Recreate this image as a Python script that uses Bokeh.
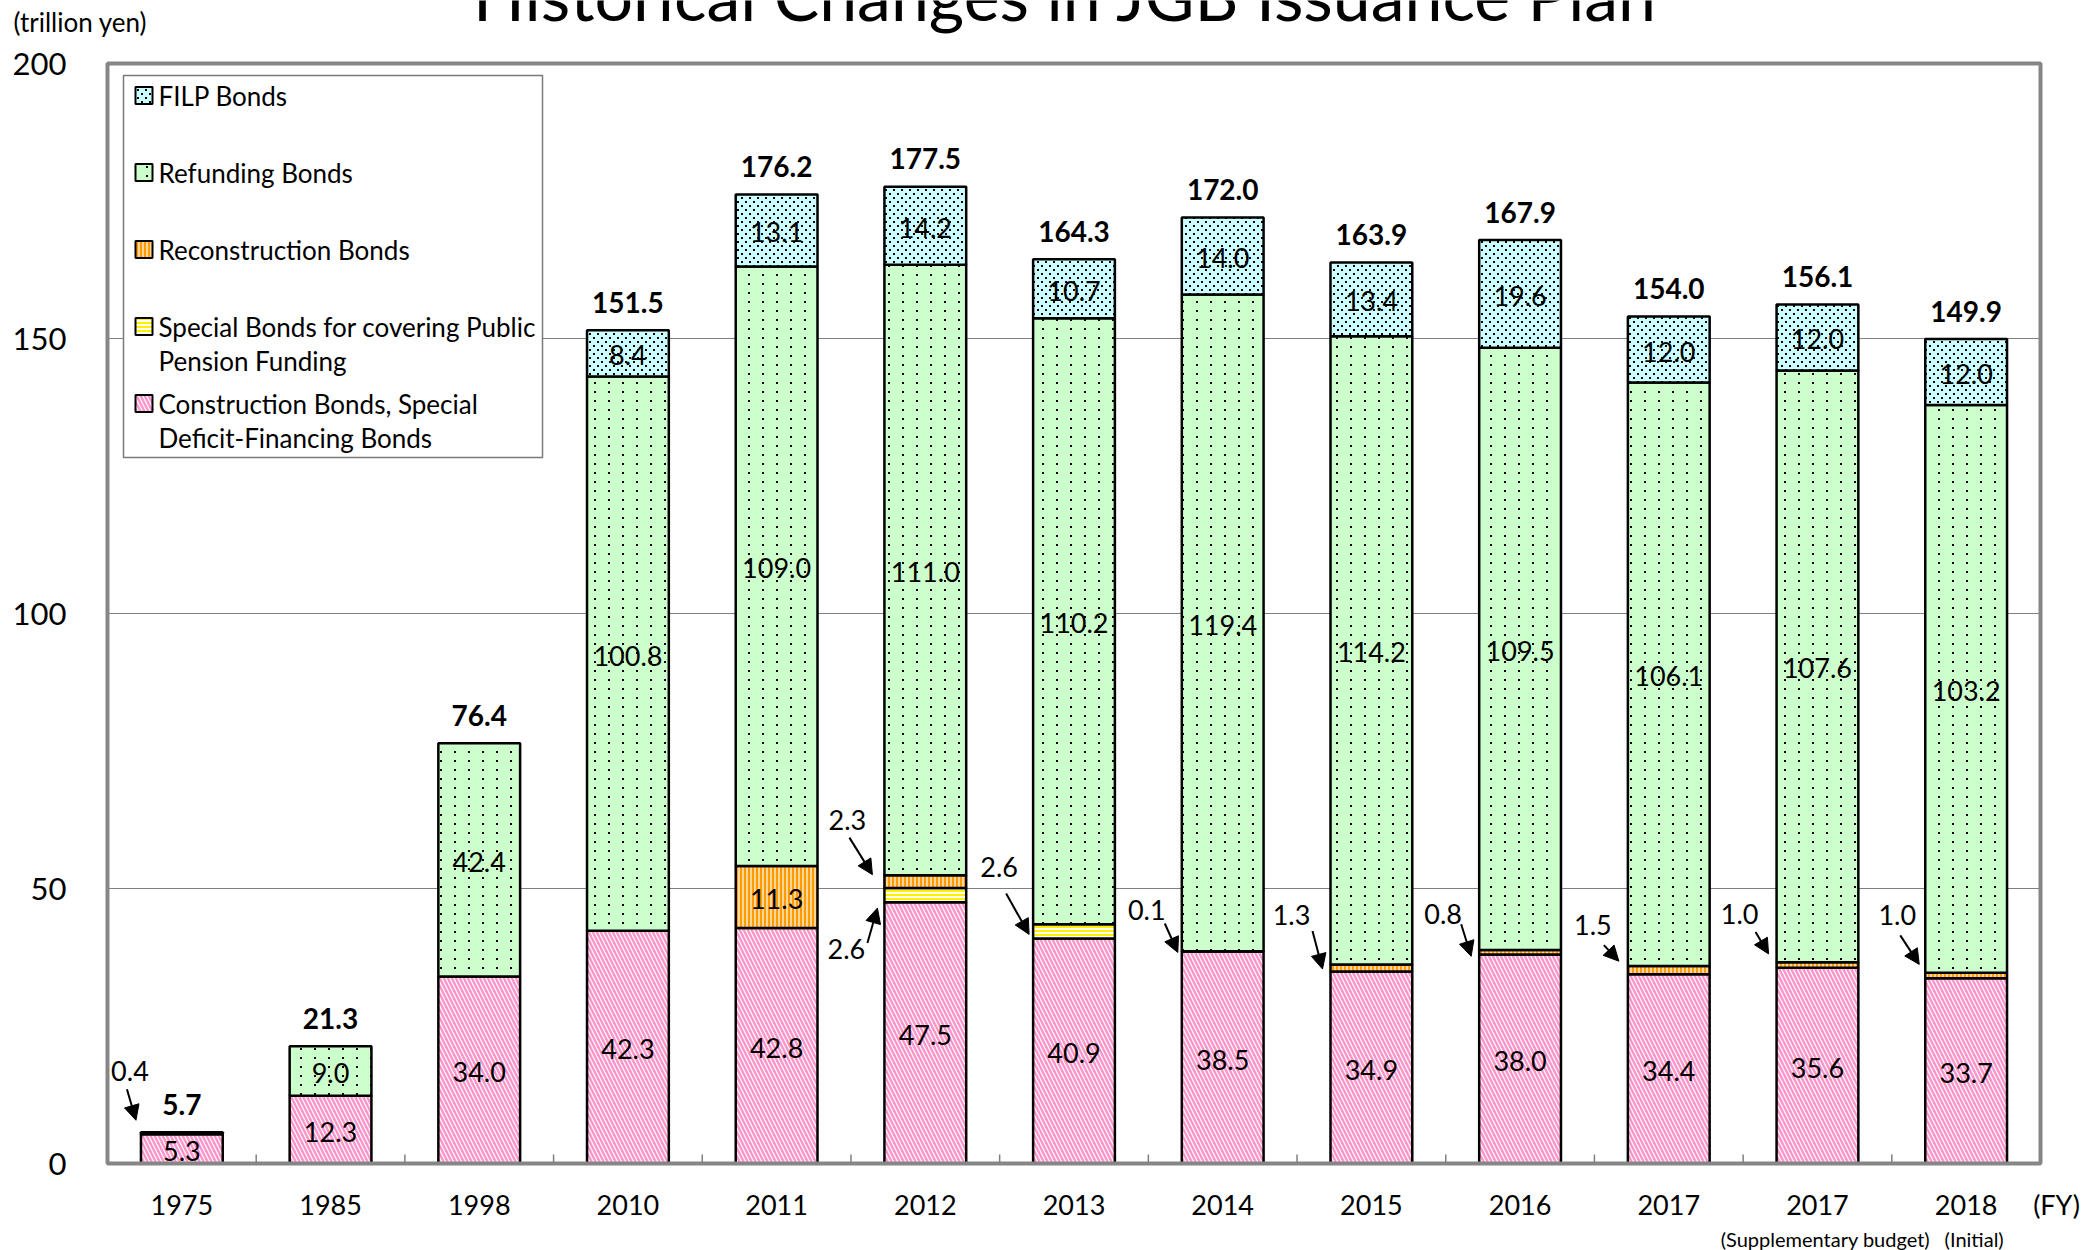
import base64
import struct
import zlib

import numpy as np
from bokeh.plotting import figure
from bokeh.models import ColumnDataSource, Arrow, NormalHead, Range1d, ImageURLTexture
from bokeh.core.properties import value
from bokeh.embed import file_html
from bokeh.resources import INLINE

# ---------------- data ----------------
years = ["1975", "1985", "1998", "2010", "2011", "2012", "2013", "2014", "2015", "2016", "2017", "2017", "2018"]
year_notes = ["", "", "", "", "", "", "", "", "", "", "", "(Supplementary budget)", "(Initial)"]
construction = [5.3, 12.3, 34.0, 42.3, 42.8, 47.5, 40.9, 38.5, 34.9, 38.0, 34.4, 35.6, 33.7]
special_pension = [0, 0, 0, 0, 0, 2.6, 2.6, 0, 0, 0, 0, 0, 0]
reconstruction = [0, 0, 0, 0, 11.3, 2.3, 0, 0.1, 1.3, 0.8, 1.5, 1.0, 1.0]
refunding = [0.4, 9.0, 42.4, 100.8, 109.0, 111.0, 110.2, 119.4, 114.2, 109.5, 106.1, 107.6, 103.2]
filp = [0, 0, 0, 8.4, 13.1, 14.2, 10.7, 14.0, 13.4, 19.6, 12.0, 12.0, 12.0]
totals = [5.7, 21.3, 76.4, 151.5, 176.2, 177.5, 164.3, 172.0, 163.9, 167.9, 154.0, 156.1, 149.9]
y_ticks = [0, 50, 100, 150, 200]
grid_ticks = [50, 100, 150]

series_values = [construction, special_pension, reconstruction, refunding, filp]
series_labels = [
    "Construction Bonds, Special\nDeficit-Financing Bonds",
    "Special Bonds for covering Public\nPension Funding",
    "Reconstruction Bonds",
    "Refunding Bonds",
    "FILP Bonds",
]
title_text = "Historical Changes in JGB Issuance Plan"
unit_text = "(trillion yen)"
fy_text = "(FY)"

# ---------------- layout ----------------
W, H = 2083, 1250
ML, MR, MT, MB = 107, 43, 63, 87          # plot area inside the canvas
FW, FH = W - ML - MR, H - MT - MB
N = len(years)
X0, X1 = -0.5, N - 0.5
Y0, Y1 = 0, 200
PX_X = FW / (X1 - X0)
PX_Y = FH / (Y1 - Y0)
BW = 0.55
FONT = "Lato"


def cx(px):
    return X0 + (px - ML) / PX_X


def cy(py):
    return Y1 - (py - MT) / PX_Y


def ddx(px):
    return px / PX_X


def ddy(py):
    return -py / PX_Y


def png_url(w, h, dots):
    rows = []
    for yy in range(h):
        row = bytearray([0])
        for xx in range(w):
            row += bytes((0, 0, 0, 255)) if (xx, yy) in dots else bytes((0, 0, 0, 0))
        rows.append(bytes(row))
    raw = b"".join(rows)

    def chunk(t, d):
        return struct.pack(">I", len(d)) + t + d + struct.pack(">I", zlib.crc32(t + d) & 0xFFFFFFFF)

    png = (b"\x89PNG\r\n\x1a\n" + chunk(b"IHDR", struct.pack(">IIBBBBB", w, h, 8, 6, 0, 0, 0))
           + chunk(b"IDAT", zlib.compress(raw)) + chunk(b"IEND", b""))
    return "data:image/png;base64," + base64.b64encode(png).decode()


green_dots = ImageURLTexture(url=png_url(14, 9, {(6, 4), (7, 4), (6, 5), (7, 5)}), repetition="repeat")
cyan_dots = ImageURLTexture(url=png_url(8, 8, {(1, 1), (2, 1), (1, 2), (2, 2), (5, 5), (6, 5), (5, 6), (6, 6)}),
                            repetition="repeat")

styles = [
    dict(fill_color="white", hatch_pattern="\\", hatch_color="#FF94CA", hatch_weight=2.4, hatch_scale=8),
    dict(fill_color="white", hatch_pattern="-", hatch_color="#FFF000", hatch_weight=2.2, hatch_scale=4),
    dict(fill_color="#FF9A00", hatch_pattern="|", hatch_color="#FFFFFF", hatch_weight=1.2, hatch_scale=4),
    dict(fill_color="#CCFFCC", hatch_pattern=value("greendots"), hatch_extra={"greendots": green_dots}),
    dict(fill_color="#CCFFFF", hatch_pattern=value("cyandots"), hatch_extra={"cyandots": cyan_dots}),
]

# annotation offsets in px (text dx,dy, arrow start dx,dy, arrow tip dx,dy) relative to bar left edge / segment middle
ann_offsets = {
    (0, 3): (-11, -62, -14, -44, -5, -13),
    (5, 2): (-37, -62, -35, -44, -12, -7),
    (5, 1): (-38, 54, -17, 48, -7, 13),
    (6, 1): (-34, -64, -27, -38, -4, 3),
    (7, 2): (-35, -41, -17, -28, -4, 1),
    (8, 2): (-39, -53, -18, -37, -8, 1),
    (9, 2): (-36, -38, -18, -28, -8, 4),
    (10, 2): (-35, -45, -24, -25, -9, -9),
    (11, 2): (-37, -51, -21, -33, -8, -11),
    (12, 2): (-28, -60, -25, -40, -6, -11),
}

p = figure(width=W, height=H, x_range=Range1d(cx(0), cx(W)), y_range=Range1d(cy(H), cy(0)),
           output_backend="svg", toolbar_location=None, title=None,
           x_axis_location=None, y_axis_location=None,
           min_border=0, min_border_left=0, min_border_right=0, min_border_top=0, min_border_bottom=0)
p.background_fill_color = "white"
p.border_fill_color = "white"
p.outline_line_color = None
p.grid.visible = False

TXT = dict(text_font=value(FONT), text_color="black")

# horizontal grid lines
p.segment(x0=[X0] * len(grid_ticks), x1=[X1] * len(grid_ticks), y0=grid_ticks, y1=grid_ticks,
          line_color="#7f7f7f", line_width=1.2)

# bars
xs = np.arange(N)
bottom = np.zeros(N)
lab_x, lab_y, lab_t = [], [], []
ann = dict(tx=[], ty=[], t=[], xs=[], ys=[], xe=[], ye=[])
for k, vals in enumerate(series_values):
    v = np.array(vals, dtype=float)
    top = bottom + v
    m = v > 0
    src = ColumnDataSource(dict(x=xs[m], b=bottom[m], t=top[m]))
    p.vbar(x="x", bottom="b", top="t", width=BW, source=src,
           line_color="black", line_width=2.5, **styles[k])
    for i in range(N):
        if v[i] <= 0:
            continue
        mid = (bottom[i] + top[i]) / 2
        if v[i] >= 5:
            lab_x.append(i)
            lab_y.append(mid)
            lab_t.append(f"{v[i]:.1f}")
        elif (i, k) in ann_offsets:
            tdx, tdy, sdx, sdy, edx, edy = ann_offsets[(i, k)]
            left = i - BW / 2
            ann["tx"].append(left + ddx(tdx))
            ann["ty"].append(mid + ddy(tdy))
            ann["t"].append(f"{v[i]:.1f}")
            ann["xs"].append(left + ddx(sdx))
            ann["ys"].append(mid + ddy(sdy))
            ann["xe"].append(left + ddx(edx))
            ann["ye"].append(mid + ddy(edy))
    bottom = top

# plot-area border and category tick marks
p.quad(left=[X0], right=[X1], bottom=[Y0], top=[Y1], fill_color=None, line_color="#868686", line_width=4)
bounds = [i + 0.5 for i in range(N - 1)]
p.segment(x0=bounds, x1=bounds, y0=[Y0] * len(bounds), y1=[Y0 + ddy(-9)] * len(bounds),
          line_color="#7f7f7f", line_width=1.5)

# segment value labels
p.text(x=lab_x, y=lab_y, text=lab_t, y_offset=2, text_font_size="27px",
       text_align="center", text_baseline="middle", **TXT)

# totals
p.text(x=list(xs), y=list(bottom), text=[f"{t:.1f}" for t in totals], y_offset=-28,
       text_font_size="28px", text_font_style="bold",
       text_align="center", text_baseline="middle", **TXT)

# small-value annotations with arrows
asrc = ColumnDataSource(ann)
p.text(x="tx", y="ty", text="t", source=asrc, text_font_size="27px",
       text_align="center", text_baseline="middle", **TXT)
p.add_layout(Arrow(source=asrc, x_start="xs", y_start="ys", x_end="xe", y_end="ye",
                   line_color="black", line_width=2,
                   end=NormalHead(size=15, fill_color="black", line_color="black", line_width=1)))

# axis tick labels
p.text(x=[X0 + ddx(-41)] * len(y_ticks), y=y_ticks, text=[str(t) for t in y_ticks],
       text_font_size="31px", text_align="right", text_baseline="middle", **TXT)
p.text(x=list(xs), y=[cy(1204)] * N, text=years, text_font_size="27px",
       text_align="center", text_baseline="middle", **TXT)
note_idx = [i for i in range(N) if year_notes[i]]
p.text(x=note_idx, y=[cy(1238)] * len(note_idx), text=[year_notes[i] for i in note_idx], x_offset=8,
       text_font_size="20px", text_align="center", text_baseline="middle", **TXT)
p.text(x=[cx(2056)], y=[cy(1204)], text=[fy_text], text_font_size="27px",
       text_align="center", text_baseline="middle", **TXT)
p.text(x=[cx(13)], y=[cy(21)], text=[unit_text], text_font_size="26px",
       text_align="left", text_baseline="middle", **TXT)
p.text(x=[cx(1065)], y=[cy(10)], text=[title_text], y_offset=-16, text_font_size="68px",
       text_align="center", text_baseline="middle", **TXT)

# legend (boxed, drawn to match the reference layout)
p.rect(x=[cx(332.5)], y=[cy(266)], width=419, height=382, width_units="screen", height_units="screen",
       fill_color="white", line_color="#7a7a7a", line_width=1.5)
row0, step, line_gap = 95, 77, 34
for j, k in enumerate(reversed(range(len(series_values)))):
    ry = row0 + step * j
    p.rect(x=[cx(143.5)], y=[cy(ry)], width=17, height=17, width_units="screen", height_units="screen",
           line_color="black", line_width=2, **styles[k])
    lines = series_labels[k].split("\n")
    p.text(x=[cx(158)] * len(lines), y=[cy(ry + line_gap * li) for li in range(len(lines))], text=lines,
           text_font_size="26px", text_align="left", text_baseline="middle", **TXT)

open("out.html", "w").write(file_html(p, INLINE))
